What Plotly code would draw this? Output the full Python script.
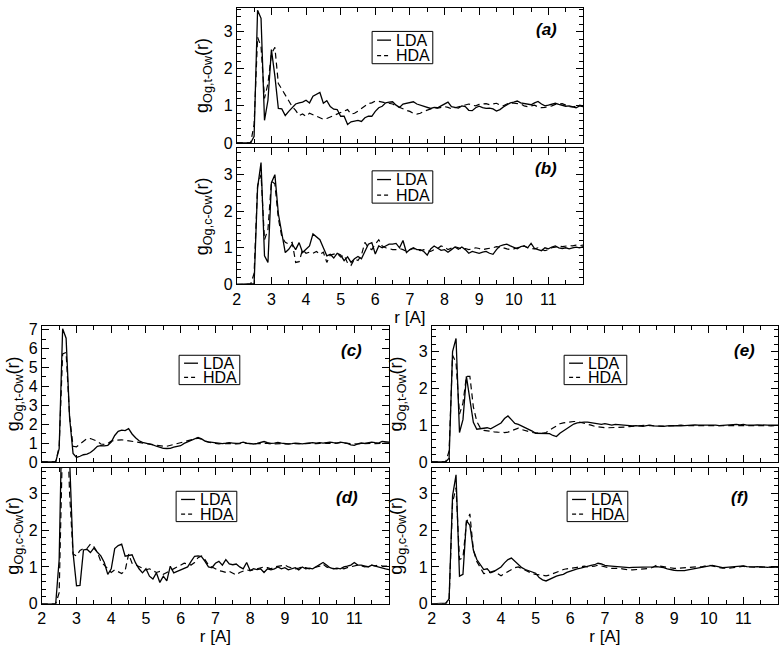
import plotly.graph_objects as go

# radial grid (Angstrom), 0.1 step from 2.0 to 12.0
r = [round(2.0 + 0.1 * i, 1) for i in range(101)]

# ---- panel (a): g_Og,t-Ow ----
a_lda = [0, 0, 0, 0, 0, 0.18, 3.58, 3.36, 0.61, 1.15,
         2.52, 1.8, 0.93, 0.92, 0.74, 0.85, 0.95, 1.05, 1.08, 1.1,
         1.15, 1.08, 1.26, 1.32, 1.36, 1.07, 1.14, 0.98, 0.91, 0.9,
         0.72, 0.72, 0.5, 0.57, 0.6, 0.61, 0.58, 0.68, 0.72, 0.72,
         0.85, 0.95, 0.99, 1.08, 1.1, 1.11, 1.02, 0.96, 1.05, 1.07,
         1.08, 1.11, 1.05, 1.02, 1.0, 0.98, 0.93, 0.96, 0.95, 1.0,
         1.06, 1.1, 0.98, 0.96, 0.94, 1.0, 0.98, 0.88, 0.87, 0.95,
         0.99, 0.95, 0.93, 0.94, 0.92, 0.86, 0.9, 0.97, 1.03, 1.08,
         1.1, 1.13, 1.08, 1.06, 1.05, 1.03, 1.08, 1.12, 1.05, 1.0,
         1.02, 1.05, 1.07, 1.04, 1.02, 0.99, 1.0, 0.97, 0.95, 1.0,
         0.98]
a_hda = [0, 0, 0, 0, 0, 0.5, 2.85, 2.6, 1.2, 1.6,
         2.4, 2.58, 1.6, 1.45, 1.28, 1.12, 0.98, 0.88, 0.74, 0.78,
         0.72, 0.8, 0.76, 0.72, 0.68, 0.64, 0.66, 0.7, 0.76, 0.8,
         0.82, 0.86, 0.9, 0.78, 0.8, 0.86, 0.92, 1.0, 1.06, 1.08,
         1.13, 1.12, 1.1, 1.08, 1.08, 1.05, 1.0, 0.96, 0.9, 0.88,
         0.85, 0.8, 0.78, 0.8, 0.85, 0.88, 0.92, 0.95, 0.94, 0.96,
         0.98, 0.96, 0.92, 0.95, 0.98, 1.0, 1.03, 1.05, 1.02, 1.0,
         1.04, 1.05, 1.06, 1.03, 1.05, 1.07, 1.02, 1.0, 1.05, 1.08,
         1.07, 1.06, 1.05, 1.0, 0.98, 1.0, 1.02, 0.97, 0.95, 0.96,
         0.97, 1.0, 1.04, 1.05, 1.06, 1.02, 0.98, 0.97, 1.0, 1.02,
         1.0]

# ---- panel (b): g_Og,c-Ow ----
b_lda = [0, 0, 0, 0, 0, 0.02, 2.64, 3.33, 0.78, 0.6,
         2.78, 3.0, 1.93, 1.4, 0.87, 0.96, 1.1, 0.95, 1.14, 0.87,
         0.95, 1.05, 1.38, 1.3, 1.22, 1.0, 0.78, 0.82, 0.72, 0.85,
         0.8, 0.65, 0.75, 0.6, 0.7, 0.76, 0.7, 0.9, 1.1, 1.14,
         0.83, 1.05, 1.0, 1.05, 1.1, 1.1, 1.12, 1.0, 1.2, 0.87,
         0.95, 1.0, 0.95, 0.95, 0.9, 0.8, 0.97, 1.05, 0.98, 0.93,
         0.95, 0.88, 0.95, 1.02, 0.96, 1.02, 0.95, 0.85, 0.9, 0.88,
         0.85, 0.88, 0.9, 0.85, 0.82, 0.95, 1.05, 1.08, 1.1, 1.05,
         1.0, 0.97, 1.03, 1.05, 1.0, 1.12, 0.98, 0.95, 0.92, 1.0,
         0.97, 1.02, 1.05, 1.0, 0.98, 1.0, 0.97, 1.0, 1.02, 1.0,
         1.03]
b_hda = [0, 0, 0, 0, 0, 0.3, 2.7, 3.0, 1.22, 1.5,
         2.82, 2.75, 1.8, 1.3, 1.15, 1.1, 1.15, 0.6, 0.62, 0.95,
         0.85, 0.88, 0.85, 0.9, 0.82, 0.88, 0.6, 0.8, 0.82, 0.85,
         0.75, 0.8, 0.58, 0.52, 0.7, 0.65, 0.8, 1.15, 1.0, 0.95,
         1.1, 1.22, 1.05, 1.0, 0.98, 0.95, 0.95, 0.98, 0.95, 0.9,
         0.95, 0.98, 0.95, 0.92, 0.95, 0.92, 0.9, 0.95, 0.98, 1.05,
         1.02, 0.95, 1.0, 1.03, 1.0, 0.96, 0.98, 0.95, 0.97, 1.0,
         0.98, 0.95, 0.97, 0.98, 1.0, 1.03, 1.02, 1.0, 0.97, 0.95,
         0.97, 1.0, 1.02, 1.05, 1.0, 0.98, 0.97, 1.0, 0.95, 0.92,
         0.95, 1.0, 1.02, 1.05, 1.03, 1.05, 1.06, 1.05, 1.07, 1.06,
         1.07]

# ---- panel (c): g_Og,t-Ow ----
c_lda = [0, 0, 0, 0, 0, 0.7, 7.05, 6.55, 2.35, 0.45,
         0.24, 0.3, 0.38, 0.41, 0.5, 0.65, 0.83, 0.86, 0.85, 0.88,
         1.05, 1.4, 1.62, 1.68, 1.66, 1.76, 1.48, 1.28, 1.12, 1.04,
         1.0, 0.95, 0.9, 0.83, 0.76, 0.72, 0.71, 0.72, 0.78, 0.83,
         0.86, 0.98, 1.06, 1.1, 1.18, 1.3, 1.22, 1.1, 1.06, 1.04,
         1.02, 1.0, 0.97, 0.99, 1.02, 1.0, 0.98, 1.0, 1.05, 1.0,
         0.97, 0.95, 0.98, 1.02, 1.08, 1.02, 0.98, 1.0, 1.03, 1.0,
         0.97, 0.95, 0.97, 1.0, 0.98, 0.96, 0.98, 1.0, 1.02, 1.0,
         1.02, 1.0, 1.03, 1.05, 1.02, 1.0, 1.05, 1.02, 0.98, 0.9,
         0.88, 0.95, 1.0, 0.98, 1.0, 1.05, 1.02, 1.0, 1.08, 1.05,
         1.05]
c_hda = [0, 0, 0, 0, 0, 0.8, 5.72, 5.8, 2.4, 0.83,
         0.8, 0.95, 1.1, 1.23, 1.24, 1.15, 1.1, 0.95, 0.93, 0.97,
         1.1, 1.15, 1.17, 1.17, 1.15, 1.12, 1.1, 1.07, 1.04, 1.02,
         0.98, 0.93, 0.9, 0.88, 0.85, 0.83, 0.83, 0.88, 0.95, 1.0,
         1.05, 1.1, 1.15, 1.18, 1.22, 1.26, 1.2, 1.1, 1.05, 1.0,
         0.98, 0.96, 0.95, 0.97, 0.98, 0.96, 0.95, 0.97, 1.0, 0.98,
         0.96, 0.95, 0.97, 0.98, 1.0, 0.98, 0.95, 0.96, 0.98, 0.97,
         0.95, 0.96, 0.98, 0.97, 0.96, 0.95, 0.97, 0.98, 0.96, 0.97,
         0.98, 1.0, 0.98, 0.97, 0.98, 1.0, 1.02, 1.0, 0.98, 0.97,
         0.96, 0.95, 0.97, 0.98, 1.0, 0.98, 0.97, 0.96, 0.98, 1.0,
         1.0]

# ---- panel (d): g_Og,c-Ow ----
d_lda = [0, 0, 0, 0, 0, 1.2, 6.0, 6.5, 4.0, 1.38,
         0.49, 0.5, 1.46, 1.48, 1.39, 1.51, 1.4, 1.3, 1.12, 0.8,
         0.95, 1.5, 1.58, 1.62, 1.29, 1.3, 1.33, 1.11, 0.95, 0.84,
         0.95, 0.75, 0.67, 0.84, 0.58, 0.75, 0.62, 1.02, 0.84, 0.88,
         0.92, 0.95, 1.0, 1.15, 1.29, 1.3, 1.28, 1.15, 1.0, 0.98,
         1.1, 1.15, 1.05, 1.2, 1.08, 1.06, 1.08, 1.0, 0.95, 1.12,
         0.9, 0.95, 0.93, 0.95, 0.85, 0.95, 0.92, 0.95, 1.0, 0.95,
         0.98, 0.92, 0.95, 0.98, 0.92, 1.0, 0.95, 0.97, 0.95, 1.0,
         1.05, 1.12, 1.05, 0.98, 0.95, 0.97, 0.95, 1.0, 1.02, 1.05,
         1.12, 1.05, 1.05, 1.03, 1.0, 1.05, 1.02, 1.0, 0.97, 0.95,
         0.93]
d_hda = [0, 0, 0, 0, 0, 0.3, 4.5, 5.8, 3.0, 1.35,
         1.3, 1.45, 1.5, 1.5, 1.62, 1.55, 1.4, 1.15, 1.05, 0.95,
         0.85, 0.92, 0.88, 0.82, 0.9, 1.35, 1.1, 1.05, 1.0, 0.95,
         0.92, 0.95, 0.9, 0.85, 0.88, 0.8, 0.85, 0.9, 0.95, 1.02,
         1.05, 1.1, 1.08, 1.05, 1.12, 1.25, 1.3, 1.2, 1.05, 1.0,
         0.95, 0.9, 0.88, 0.85, 0.88, 0.82, 0.78, 0.85, 0.88, 0.92,
         0.9, 0.93, 0.95, 0.97, 1.0, 0.98, 0.95, 1.0, 1.02, 1.05,
         1.05, 1.0, 0.98, 0.95, 0.97, 1.0, 0.98, 0.95, 0.97, 1.0,
         1.02, 1.08, 1.0, 0.97, 0.95, 0.95, 0.97, 0.95, 0.98, 1.0,
         1.02, 1.05, 1.03, 1.0, 1.02, 1.05, 1.03, 1.05, 1.03, 1.02,
         1.02]

# ---- panel (e): g_Og,t-Ow ----
e_lda = [0, 0, 0, 0, 0, 0.1, 3.0, 3.36, 0.8, 1.15,
         2.33, 1.7, 1.08, 0.89, 0.9, 0.93, 0.93, 0.9, 0.95, 1.0,
         1.06, 1.18, 1.25, 1.15, 1.05, 1.02, 0.98, 0.93, 0.88, 0.84,
         0.78, 0.78, 0.78, 0.78, 0.77, 0.72, 0.69, 0.78, 0.84, 0.92,
         0.97, 1.03, 1.06, 1.08, 1.08, 1.08, 1.07, 1.04, 1.04, 1.02,
         1.04, 1.02, 1.0, 1.02, 1.01, 1.0, 0.99, 0.97, 0.98, 0.99,
         0.98, 0.97, 0.99, 1.0, 0.98, 0.97, 0.96, 0.97, 0.98, 0.99,
         1.0, 0.99, 0.98, 0.99, 1.0, 1.02, 1.01, 1.0, 0.99, 1.0,
         1.0, 1.01, 1.0, 0.99, 1.0, 1.01, 1.0, 1.01, 1.02, 1.01,
         1.02, 1.0, 0.99, 1.0, 1.01, 1.0, 0.99, 1.0, 1.0, 0.99,
         1.0]
e_hda = [0, 0, 0, 0, 0, 0.3, 2.9, 2.7, 1.3, 1.6,
         2.33, 2.33, 1.5, 1.1, 0.93, 0.86, 0.84, 0.82, 0.82, 0.81,
         0.8, 0.8, 0.81, 0.85, 0.88, 0.92, 0.88, 0.85, 0.82, 0.8,
         0.79, 0.78, 0.78, 0.8, 0.85, 0.92, 0.98, 1.04, 1.06, 1.08,
         1.09, 1.1, 1.1, 1.08, 1.06, 1.03, 1.0, 0.97, 0.95, 0.94,
         0.93, 0.93, 0.93, 0.93, 0.93, 0.94, 0.95, 0.96, 0.97, 0.98,
         0.99, 1.0, 1.0, 0.99, 0.98, 0.98, 0.97, 0.97, 0.98, 0.99,
         0.99, 1.0, 1.0, 0.99, 0.99, 1.0, 1.01, 1.0, 1.0, 0.99,
         1.0, 1.0, 1.01, 1.0, 0.99, 0.99, 1.0, 1.0, 1.01, 1.0,
         1.0, 0.99, 0.99, 1.0, 1.0, 1.01, 1.0, 0.99, 0.98, 0.98,
         0.99]

# ---- panel (f): g_Og,c-Ow ----
f_lda = [0, 0, 0, 0, 0.02, 0.13, 2.93, 3.5, 0.75, 0.8,
         2.26, 2.13, 1.46, 1.2, 1.06, 0.93, 0.95, 0.84, 0.88, 0.93,
         1.0, 1.11, 1.2, 1.24, 1.15, 1.05, 0.98, 0.93, 0.9, 0.86,
         0.83, 0.71, 0.65, 0.62, 0.67, 0.72, 0.75, 0.78, 0.8, 0.85,
         0.89, 0.92, 0.95, 0.97, 1.0, 1.02, 1.04, 1.06, 1.1, 1.08,
         1.04, 1.03, 1.02, 1.0, 0.99, 0.98, 0.98, 0.98, 0.99, 0.99,
         0.98, 0.98, 0.99, 0.99, 1.0, 1.01, 1.0, 0.98, 0.95, 0.92,
         0.91, 0.9, 0.89, 0.9, 0.92, 0.94, 0.96, 0.98, 1.0, 1.01,
         1.02, 1.04, 1.02, 0.99, 0.98, 0.99, 1.0, 1.01, 1.02, 1.02,
         1.03, 1.01, 1.0, 1.0, 1.01, 1.0, 0.99, 0.99, 1.0, 1.0,
         0.99]
f_hda = [0, 0, 0, 0, 0, 0.1, 2.75, 3.15, 1.2, 1.25,
         2.2, 2.44, 1.46, 1.15, 0.98, 0.82, 0.83, 0.85, 0.89, 0.82,
         0.76, 0.82, 0.88, 0.92, 0.98, 1.0, 0.95, 0.9, 0.85, 0.82,
         0.8, 0.78, 0.77, 0.76, 0.78, 0.82, 0.86, 0.9, 0.93, 0.95,
         0.97, 0.98, 0.99, 1.0, 1.02, 1.0, 1.0, 1.02, 1.05, 1.02,
         1.0, 0.98, 0.96, 0.97, 0.96, 0.95, 0.93, 0.92, 0.92, 0.93,
         0.95, 0.94, 0.95, 0.96, 1.0, 1.05, 1.02, 1.0, 0.99, 0.97,
         0.96, 0.96, 0.97, 0.98, 0.99, 1.0, 1.0, 1.01, 1.0, 1.02,
         1.05, 1.03, 1.0, 0.98, 0.97, 0.96, 0.97, 0.98, 1.0, 1.01,
         1.02, 1.0, 0.99, 0.98, 0.99, 1.0, 0.99, 0.98, 0.99, 1.0,
         1.0]

x_ticks = [2, 3, 4, 5, 6, 7, 8, 9, 10, 11]
series_names = ["LDA", "HDA"]
panel_labels = ["(a)", "(b)", "(c)", "(d)", "(e)", "(f)"]
y_title_t = "g<sub>Og,t-Ow</sub>(r)"
y_title_c = "g<sub>Og,c-Ow</sub>(r)"
x_title = "r [A]"

W, H = 780, 649
FONT = "Liberation Sans, Arial, sans-serif"

# layout of panels in pixels: left, top, right, bottom
panels = [
    dict(data=(a_lda, a_hda), box=(234, 3, 582, 141), ymax=3.64, ytitle=y_title_t, xlab=False,
         leg=(136, 24, 61, 33), lab=(0.931, 0.84), ystand=10),
    dict(data=(b_lda, b_hda), box=(234, 146.5, 582, 285.5), ymax=3.72, ytitle=y_title_c, xlab=True,
         leg=(136, 23, 61, 33), lab=(0.931, 0.854), ystand=10),
    dict(data=(c_lda, c_hda), box=(38, 328, 387, 467), ymax=7.2, ytitle=y_title_t, xlab=False,
         leg=(138, 30, 61, 30), lab=(0.928, 0.82), ystand=4),
    dict(data=(d_lda, d_hda), box=(38, 473, 387, 612), ymax=3.69, ytitle=y_title_c, xlab=True,
         leg=(135, 24, 61, 31), lab=(0.917, 0.784), ystand=4),
    dict(data=(e_lda, e_hda), box=(430, 328, 778, 467), ymax=3.7, ytitle=y_title_t, xlab=False,
         leg=(133, 30, 63, 30), lab=(0.94, 0.82), ystand=11),
    dict(data=(f_lda, f_hda), box=(430, 473, 778, 612), ymax=3.69, ytitle=y_title_c, xlab=True,
         leg=(136, 24, 61, 31), lab=(0.92, 0.784), ystand=11),
]

fig = go.Figure()
shapes, annotations = [], []
layout = {}

for i, p in enumerate(panels):
    s = "" if i == 0 else str(i + 1)
    l, t, rgt, b = p["box"]
    pw, ph = rgt - l, b - t
    lda, hda = p["data"]
    fig.add_trace(go.Scatter(x=r, y=lda, mode="lines", name="LDA", showlegend=False,
                             line=dict(color="black", width=1.3), xaxis="x" + s, yaxis="y" + s))
    fig.add_trace(go.Scatter(x=r, y=hda, mode="lines", name="HDA", showlegend=False,
                             line=dict(color="black", width=1.2, dash="6px,4px"),
                             xaxis="x" + s, yaxis="y" + s))
    xa = dict(domain=[l / W, rgt / W], range=[2, 12], anchor="y" + s,
              showline=True, mirror="ticks", linecolor="black", linewidth=1,
              ticks="inside", ticklen=7, tickwidth=1, tickcolor="black",
              tickvals=x_ticks, showticklabels=p["xlab"],
              tickfont=dict(size=16, color="black", family=FONT),
              showgrid=False, zeroline=False,
              minor=dict(ticks="inside", ticklen=4, dtick=0.5, tick0=0, tickcolor="black", showgrid=False))
    if p["xlab"]:
        xa["title"] = dict(text=x_title, font=dict(size=17, color="black", family=FONT), standoff=2)
    ymax = p["ymax"]
    ya = dict(domain=[1 - b / H, 1 - t / H], range=[0, ymax], anchor="x" + s,
              showline=True, mirror="ticks", linecolor="black", linewidth=1,
              ticks="inside", ticklen=7, tickwidth=1, tickcolor="black",
              tickvals=list(range(0, int(ymax) + 1)),
              tickfont=dict(size=16, color="black", family=FONT),
              showgrid=False, zeroline=False,
              minor=dict(ticks="inside", ticklen=4, dtick=(0.5 if ymax > 5 else 0.2), tick0=0,
                         tickcolor="black", showgrid=False),
              title=dict(text=p["ytitle"], font=dict(size=18, color="black", family=FONT),
                         standoff=p["ystand"]))
    layout["xaxis" + s] = xa
    layout["yaxis" + s] = ya

    xr, yr = "x" + s + " domain", "y" + s + " domain"
    gx, gy, gw, gh = p["leg"]
    fx = lambda px: px / pw
    fy = lambda py: 1 - py / ph
    shapes.append(dict(type="rect", xref=xr, yref=yr, x0=fx(gx), x1=fx(gx + gw),
                       y0=fy(gy + gh), y1=fy(gy), line=dict(color="black", width=1),
                       fillcolor="white", layer="above"))
    for k, name in enumerate(series_names):
        ry = gy + gh * (0.27 if k == 0 else 0.75)
        shapes.append(dict(type="line", xref=xr, yref=yr, x0=fx(gx + 5), x1=fx(gx + 19),
                           y0=fy(ry), y1=fy(ry),
                           line=dict(color="black", width=1.3 if k == 0 else 1.2,
                                     dash="solid" if k == 0 else "4px,3px"),
                           layer="above"))
        annotations.append(dict(text=name, xref=xr, yref=yr, x=fx(gx + 22), y=fy(ry),
                                xanchor="left", yanchor="middle", showarrow=False,
                                font=dict(size=16, color="black", family=FONT)))
    lx, ly = p["lab"]
    annotations.append(dict(text="<b><i>" + panel_labels[i] + "</i></b>", xref=xr, yref=yr,
                            x=lx, y=ly, xanchor="right", yanchor="middle", showarrow=False,
                            font=dict(size=17, color="black", family=FONT)))

fig.update_layout(
    width=W, height=H,
    margin=dict(l=0, r=0, t=0, b=0),
    paper_bgcolor="white", plot_bgcolor="white",
    showlegend=False,
    font=dict(family=FONT, color="black"),
    shapes=shapes, annotations=annotations,
    **layout,
)

fig.write_html(
    "out.html",
    config={"displayModeBar": False},
    post_script="document.body.style.margin='0px';document.body.style.padding='0px';"
                "document.body.style.overflow='hidden';",
)
